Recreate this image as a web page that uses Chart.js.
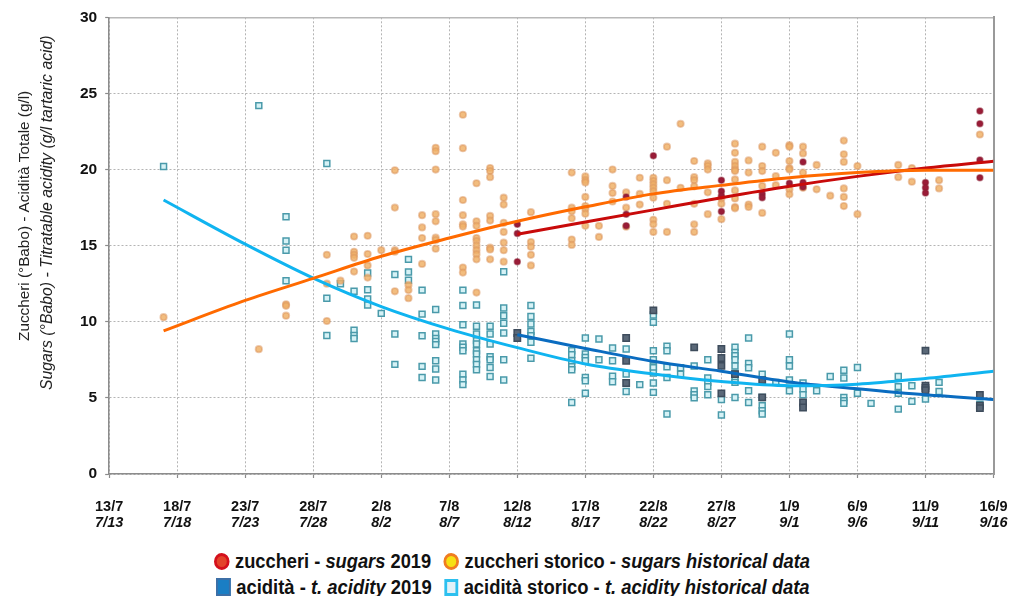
<!DOCTYPE html>
<html><head><meta charset="utf-8">
<script src="https://cdn.jsdelivr.net/npm/chart.js@4/dist/chart.umd.min.js"></script>
<style>
html,body{margin:0;padding:0;background:#fff;}
#wrap{position:relative;width:1012px;height:596px;overflow:hidden;}
#c{position:absolute;left:0;top:0;}
#legend{position:absolute;left:0;top:548px;width:1012px;font-family:"Liberation Sans",Arial,sans-serif;font-weight:bold;font-size:20px;color:#111;line-height:26px;}
.row{position:absolute;left:0;white-space:nowrap;display:flex;align-items:center;transform-origin:0 50%;}
.mk{display:inline-block;margin-right:6px;box-sizing:border-box;flex:none;}
.c1{width:17px;height:17px;border-radius:50%;background:#e3432a;border:3px solid #d4101c;}
.c2{width:17px;height:17px;border-radius:50%;background:#f6e013;border:3px solid #f07c20;margin-left:8px;}
.s1{width:16px;height:18px;background:#1a7ec4;border:2px solid #3d6fa6;}
.s2{width:15px;height:17px;background:#e2f1f8;border:3px solid #2cc0ef;margin-left:8px;}
i{font-style:italic;}
</style></head><body>
<div id="wrap"><canvas id="c" width="1012" height="532"></canvas>
<div id="legend">
<div class="row" id="r1" style="top:0"><span class="mk c1"></span>zuccheri -&nbsp;<i>sugars</i>&nbsp;2019&nbsp;<span class="mk c2"></span>zuccheri storico -&nbsp;<i>sugars historical data</i></div>
<div class="row" id="r2" style="top:26px"><span class="mk s1"></span>acidità -&nbsp;<i>t. acidity</i>&nbsp;2019&nbsp;<span class="mk s2"></span>acidità storico -&nbsp;<i>t. acidity historical data</i></div>
</div></div>
<script>
// x = days since 13/7
const xTicksIt = ['13/7','18/7','23/7','28/7','2/8','7/8','12/8','17/8','22/8','27/8','1/9','6/9','11/9','16/9'];
const xTicksEn = ['7/13','7/18','7/23','7/28','8/2','8/7','8/12','8/17','8/22','8/27','9/1','9/6','9/11','9/16'];
const yTickValues = [0,5,10,15,20,25,30];

// [day, values...]
const sugarsHistorical = [
 [4,[10.3]],[11,[8.2]],[13,[11.15,11.05,10.4]],[16,[14.4,12.5,10.05]],[17,[12.7]],
 [18,[15.6,14.6,14.4,14.2,13.3]],[19,[15.65,14.45,13.7,12.9]],[20,[14.7]],
 [21,[19.95,17.5,14.7,14.6,12.0]],[22,[12.42,12.08,11.55]],[23,[17.0,16.2,15.5,13.8]],
 [24,[21.43,21.2,20.0,17.07,16.6,15.53,15.37,14.8]],[26,[23.6,21.4,18.0,17.0,16.4,16.25,13.56,13.23]],
 [27,[19.1,16.6,16.3,15.5,15.3,15.0,14.7,14.44,14.1,11.92]],[28,[20.1,19.9,19.5,16.95,16.65,14.87,14.75,14.1]],
 [29,[18.15,17.7,16.5,15.9,15.2,14.7,13.95]],[31,[17.2,15.24,14.93,14.4,13.7]],
 [34,[19.8,17.5,17.26,16.8,15.4,15.05]],[35,[19.55,19.3,19.15,18.2,17.6,17.4,17.1,16.3]],
 [36,[16.3,15.57]],[37,[20.0,18.92,18.46,17.9]],[38,[18.5,17.5,16.24]],[39,[19.46,18.4,17.7]],
 [40,[19.46,19.24,19.02,18.8,18.57,18.15,16.7,16.4,15.9]],[41,[21.5,19.3,17.75,15.9]],[42,[23.0,18.8]],
 [43,[20.56,19.5,19.3,18.9,17.75,16.4,15.9]],[44,[20.4,20.23,20.0,18.5,17.07]],[45,[18.1,17.75,16.74]],
 [46,[21.7,21.1,20.5,20.23,20.0,19.9,19.35,18.63,18.1,17.54,17.45]],[47,[20.6,19.8,17.7,17.54]],
 [48,[21.5,20.23,19.9,18.92,17.15]],[49,[21.1,19.57,18.97]],[50,[21.6,21.5,20.56,20.1,20.0,18.7,18.37]],
 [51,[21.5,21.06,19.8,18.8]],[52,[20.3,18.7]],[53,[18.28]],[54,[21.9,21.0,20.5,18.76,18.2,17.6]],
 [55,[20.23,17.07]],[58,[20.3,19.5]],[59,[20.1,19.2]],[61,[19.3,18.76]],[64,[22.3]]
];
const sugars2019 = [
 [30,[16.4,15.8,13.95]],[38,[18.2,17.07,16.3]],[40,[20.9]],[45,[19.3,18.57,18.28,17.24]],
 [48,[18.4,18.15]],[50,[19.1]],[51,[20.5,19.15,18.85]],[60,[19.15,18.8,18.46]],[64,[23.84,23.0,20.63,19.46]]
];
const acidityHistorical = [
 [4,[20.2]],[11,[24.2]],[13,[16.9,15.3,14.7,12.7]],[16,[20.4,11.55,9.1]],[17,[12.5]],
 [18,[12.0,9.45,9.1,8.9]],[19,[13.2,12.1,11.5,11.1]],[20,[10.55]],[21,[13.1,9.2,7.2]],
 [22,[14.1,13.27,12.73]],[23,[12.08,10.5,9.08,7.07,6.34]],[24,[10.8,9.2,8.9,8.7,8.5,7.44,6.9,6.17]],
 [26,[12.08,11.07,9.8,8.54,8.32,8.1,6.56,6.17,5.87]],[27,[11.1,9.7,9.2,8.76,8.54,8.1,7.88,7.5,7.2,6.85]],
 [28,[9.7,9.2,8.54,7.7,7.5,7.0,6.4]],[29,[13.28,10.9,10.4,9.9,9.26,7.5,6.17]],
 [31,[11.07,10.34,9.85,9.37,9.08,8.65,7.6]],[34,[8.1,7.84,7.44,7.05,6.85,4.7]],
 [35,[8.93,7.88,7.66,7.44,6.34,6.13,5.3]],[36,[8.87,7.5]],[37,[8.28,7.44,6.43,6.06]],
 [38,[8.21,6.56,5.42]],[39,[5.87]],[40,[10.45,9.97,8.1,7.5,7.1,6.98,6.63,5.98,5.36]],
 [41,[8.4,8.1,7.05,6.34,3.94]],[42,[6.98,6.56]],[43,[7.1,5.45,5.2,5.0]],[44,[7.5,6.3,6.02,5.74,5.2]],
 [45,[4.9,3.87]],[46,[8.32,7.99,7.77,7.5,7.1,6.6,6.17,6.02,5.03]],[47,[8.93,7.26,6.98,5.47,4.7]],
 [48,[6.56,5.03,4.48,4.15,3.94]],[49,[6.02]],[50,[9.2,7.5,7.1,6.17,5.47]],[51,[5.98,5.58,5.2]],
 [52,[5.47]],[53,[6.41]],[54,[6.82,6.3,5.03,4.81,4.64]],[55,[7.0,5.3]],[56,[4.64]],
 [58,[6.41,5.74,5.3,4.26]],[59,[5.8,4.77]],[60,[4.93]],[61,[6.02,5.42]],[64,[4.59]]
];
const acidity2019 = [
 [30,[9.26,8.93]],[38,[8.93,7.44,5.98]],[40,[10.75]],[43,[8.32]],[45,[8.21,7.62,7.1,5.3]],
 [46,[6.56]],[48,[6.17,5.03]],[51,[4.7,4.37]],[60,[8.1,5.8,5.65,5.5]],[64,[5.2,4.48,4.33]]
];
// trend curves
const trendSugarsHistDays = [4,10,15,20,25,30,35,40,45,50,55,60,65];
const trendSugarsHistVals = [9.4,11.4,12.85,14.3,15.5,16.6,17.55,18.4,18.96,19.46,19.8,19.95,19.95];
const trendAcidHistDays = [4,10,15,20,25,30,35,40,45,50,55,60,65];
const trendAcidHistVals = [18.0,15.1,12.87,11.0,9.52,8.3,7.23,6.57,6.07,5.8,5.9,6.28,6.75];
const trendSugars2019Days = [30,35,40,45,50,55,60,65];
const trendSugars2019Vals = [15.75,16.55,17.35,18.15,18.9,19.55,20.1,20.55];
const trendAcid2019Days = [30,35,40,45,50,55,60,65];
const trendAcid2019Vals = [9.15,8.25,7.4,6.75,6.05,5.6,5.2,4.9];

const yTitleIt = 'Zuccheri (°Babo) - Acidità Totale (g/l)';
const yTitleEn = 'Sugars (°Babo) - Titratable acidity (g/l tartaric acid)';

const flat = g => g.flatMap(([d,vs]) => vs.map(v => ({x:d,y:v})));
const zip = (xs,ys) => xs.map((x,i)=>({x,y:ys[i]}));

const SANS = '"Liberation Sans",Arial,sans-serif';
const GRID = '#b4b4b4';
const AXIS = '#8c8c8c';

new Chart(document.getElementById('c'), {
  type: 'scatter',
  data: { datasets: [
    {label:'trendSH', data: zip(trendSugarsHistDays,trendSugarsHistVals), showLine:true, borderColor:'#ff6a00', borderWidth:3, pointRadius:0, cubicInterpolationMode:'monotone', order:0},
    {label:'trendAH', data: zip(trendAcidHistDays,trendAcidHistVals), showLine:true, borderColor:'#10b4f0', borderWidth:3, pointRadius:0, cubicInterpolationMode:'monotone', order:0},
    {label:'trendS19', data: zip(trendSugars2019Days,trendSugars2019Vals), showLine:true, borderColor:'#c80a0a', borderWidth:3, pointRadius:0, cubicInterpolationMode:'monotone', order:0},
    {label:'trendA19', data: zip(trendAcid2019Days,trendAcid2019Vals), showLine:true, borderColor:'#0a6cc0', borderWidth:3, pointRadius:0, cubicInterpolationMode:'monotone', order:0},
    {label:'sugars 2019', data: flat(sugars2019), pointStyle:'circle', pointRadius:3, backgroundColor:'#9a1c38', borderColor:'rgba(140,30,50,0.5)', borderWidth:1.5, order:1},
    {label:'acidity 2019', data: flat(acidity2019), pointStyle:'rect', pointRadius:4.5, backgroundColor:'#5a6878', borderColor:'#3e4c5c', borderWidth:1.5, order:1},
    {label:'sugars hist', data: flat(sugarsHistorical), pointStyle:'circle', pointRadius:3.2, backgroundColor:'rgba(240,178,105,0.85)', borderColor:'rgba(220,150,95,0.5)', borderWidth:1.8, order:2},
    {label:'acidity hist', data: flat(acidityHistorical), pointStyle:'rect', pointRadius:4.2, backgroundColor:'#d6f2f6', borderColor:'#4a9aaa', borderWidth:1.5, order:2}
  ]},
  options: {
    responsive:false, animation:false,
    layout:{padding:{top:16,right:0,left:16,bottom:0}},
    plugins:{legend:{display:false}, tooltip:{enabled:false}},
    scales:{
      x:{type:'linear', position:'bottom', min:0, max:65, weight:0,
        afterFit: s => { s.height = 40.6; s.paddingRight = 18.5; s.paddingLeft = 0; },
        ticks:{stepSize:5, autoSkip:false, maxRotation:0, padding:19.8, color:'#111', font:{family:SANS, size:14.5, weight:'bold'},
          callback:v=>xTicksIt[v/5]},
        grid:{color:GRID, tickColor:AXIS, tickLength:4, drawTicks:true, tickBorderDash:[], tickWidth:1.2},
        border:{display:true, color:AXIS, width:1.5, dash:[2,2]}},
      x2:{type:'linear', position:'bottom', min:0, max:65, weight:1,
        afterFit: s => { s.paddingRight = 18.5; s.paddingLeft = 0; },
        ticks:{stepSize:5, autoSkip:false, maxRotation:0, padding:0, color:'#111', font:{family:SANS, size:14.5, weight:'bold', style:'italic'},
          callback:v=>xTicksEn[v/5]},
        grid:{display:false, drawTicks:false, tickLength:0}, border:{display:false}},
      xTop:{type:'linear', position:'top', min:0, max:65,
        ticks:{display:false}, grid:{display:false, drawTicks:false, tickLength:0},
        border:{display:true, color:'#b8b8b8', width:1.5}},
      y:{type:'linear', position:'left', min:0, max:30, weight:0,
        afterBuildTicks: s => { s.ticks = yTickValues.map(v=>({value:v})); },
        ticks:{padding:8, color:'#111', font:{family:SANS, size:15.5, weight:'bold'}},
        grid:{color:GRID, tickColor:AXIS, tickLength:4, tickBorderDash:[], tickWidth:1.2},
        border:{display:true, color:AXIS, width:1.5, dash:[2,2]},
        title:{display:true, text:' '.repeat(15)+yTitleEn, color:'#222', padding:{top:0,bottom:15.3}, font:{family:SANS, size:15.8, style:'italic'}}},
      y2:{type:'linear', position:'left', min:0, max:30, weight:1,
        ticks:{display:false}, grid:{display:false, drawTicks:false, tickLength:0}, border:{display:false},
        title:{display:true, text:' '.repeat(14)+yTitleIt, color:'#222', padding:{top:0,bottom:3.3}, font:{family:SANS, size:15.3}}},
      yRight:{type:'linear', position:'right', min:0, max:30,
        ticks:{display:false}, grid:{display:false, drawTicks:false, tickLength:0},
        border:{display:true, color:'#999', width:2}}
    }
  }
});

// fit legend rows to the reference widths
function fitRow(id, left, width){
  const r = document.getElementById(id);
  const w = r.scrollWidth;
  r.style.left = left + 'px';
  r.style.transform = 'scaleX(' + (width / w) + ')';
}
fitRow('r1', 214, 596);
fitRow('r2', 216, 594);
</script>
</body></html>
